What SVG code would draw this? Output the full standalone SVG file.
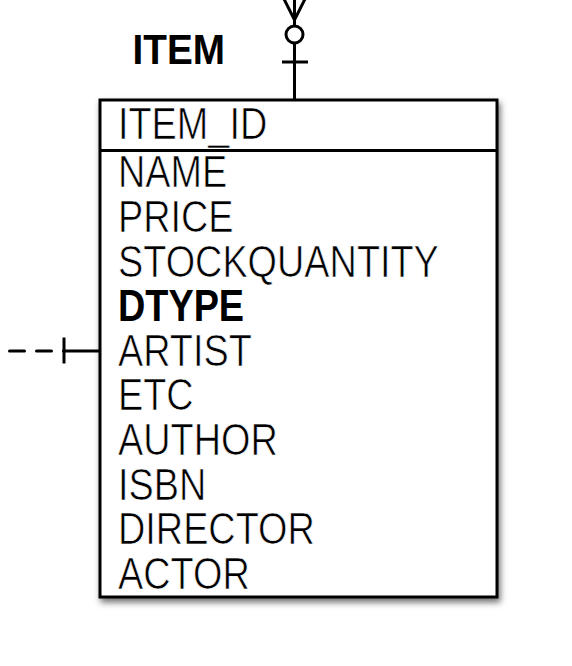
<svg xmlns="http://www.w3.org/2000/svg" width="572" height="666" viewBox="0 0 572 666">
<style>
.ln{fill:none;stroke:#000;stroke-width:3}
.t{font-family:"Liberation Sans",Arial,sans-serif;font-size:44px;fill:#000}
.r{stroke:#fff;stroke-width:0.7}
.b{font-weight:bold}
</style>
<defs>
<filter id="sh" x="-10%" y="-10%" width="125%" height="125%">
<feDropShadow dx="2" dy="4" stdDeviation="3" flood-color="#000" flood-opacity="0.55"/>
</filter>
</defs>
<rect width="572" height="666" fill="#fff"/>
<g id="connectors">
<path class="ln" d="M294.5 -2 V100"/>
<path class="ln" d="M282 -5 L294.5 20 L307 -5"/>
<circle class="ln" cx="294.5" cy="34.5" r="8.5" style="fill:#fff"/>
<path class="ln" d="M282 62 H308"/>
<path class="ln" d="M9.5 351 H64" stroke-dasharray="15 12" stroke-linecap="round"/>
<path class="ln" d="M64 351 H100 M64 337.5 V363.5"/>
</g>
<g id="item">
<text class="t b" transform="translate(132.5 64) scale(0.9 1)" style="font-size:43px">ITEM</text>
<rect x="100" y="100" width="397" height="497" fill="#fff" stroke="#000" stroke-width="3" filter="url(#sh)"/>
<path class="ln" d="M100 150.5 H497"/>
<g transform="translate(118 0) scale(0.86 1)">
<text class="t r" x="0" y="139.5">ITEM_ID</text>
<text class="t r" x="0" y="187.5">NAME</text>
<text class="t r" x="0" y="232.1">PRICE</text>
<text class="t r" x="0" y="276.7">STOCKQUANTITY</text>
<text class="t b" x="0" y="321.3">DTYPE</text>
<text class="t r" x="0" y="365.9">ARTIST</text>
<text class="t r" x="0" y="410.5">ETC</text>
<text class="t r" x="0" y="455.1">AUTHOR</text>
<text class="t r" x="0" y="499.7">ISBN</text>
<text class="t r" x="0" y="544.3">DIRECTOR</text>
<text class="t r" x="0" y="588.9">ACTOR</text>
</g>
</g>
</svg>
